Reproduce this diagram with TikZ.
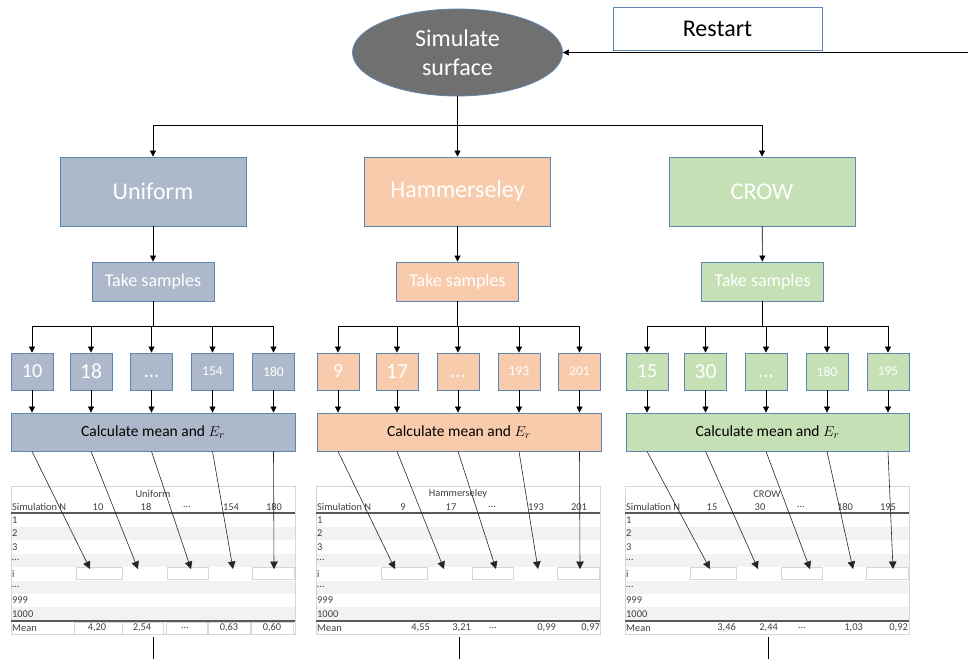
\documentclass[tikz,border=0pt]{standalone}
\usepackage{fontspec}
\setmainfont{Carlito}
\usetikzlibrary{arrows.meta,shapes.geometric}

\definecolor{unifill}{HTML}{ADB9CA}
\definecolor{hamfill}{HTML}{F8CBAD}
\definecolor{crowfill}{HTML}{C5E0B4}
\definecolor{boxedge}{HTML}{5F86B0}
\definecolor{ellfill}{HTML}{707070}
\definecolor{tabtext}{HTML}{404040}
\definecolor{tabrule}{HTML}{595959}
\definecolor{tabshade}{HTML}{F2F2F2}
\definecolor{tabedge}{HTML}{D6D6D6}

\tikzset{
  link/.style={draw=black, line width=0.6pt},
  flow/.style={link, -{Triangle[length=6pt,width=6pt]}},
  feed/.style={draw=black!85, line width=0.6pt, -{Triangle[length=7.5pt,width=7.5pt]}},
  boxbase/.style={draw=boxedge, line width=0.8pt, inner sep=0pt},
  method/.style={boxbase, minimum width=186pt, minimum height=69pt, text=white, font=\fontsize{24}{28}\selectfont},
  sampler/.style={boxbase, minimum width=122pt, minimum height=39pt, text=white, font=\fontsize{18}{20}\selectfont},
  nbox/.style={boxbase, minimum width=42pt, minimum height=37pt, text=white},
  big/.style={font=\fontsize{20}{22}\selectfont},
  bigger/.style={font=\fontsize{21.5}{23}\selectfont},
  small/.style={font=\fontsize{13.5}{15}\selectfont},
  calcbox/.style={boxbase, minimum width=284pt, minimum height=38pt, text=black, font=\fontsize{15.5}{18}\selectfont},
  tabtxt/.style={text=tabtext, font=\fontsize{10.4}{11}\selectfont, inner sep=0pt},
}

% dots set on the digits' baseline
\newcommand\lowdots{\vphantom{0}...}

% Result table: #1 left x, #2 name prefix, #3 title, #4-#8 sample sizes
\newcommand\simgrid[8]{%
  \begin{scope}[shift={(#1,0)}]
    \foreach \t in {526.9,553.7,580.5,607.3}
      \fill[tabshade] (0,\t) rectangle (284,\t+13.4);
    \draw[tabedge, line width=0.5pt] (0,486) rectangle (284,634);
    \draw[tabrule, line width=1.2pt] (0,513) -- (284,513);
    \draw[tabrule, line width=2pt] (0,621) -- (284,621);
    \foreach \a/\b in {65/111,156/197,241/283}
      \draw[tabedge, fill=white, line width=0.5pt] (\a,567.5) rectangle (\b,579.5);
    \node[tabtxt] (#2-title) at (142,494) {#3};
    \node[tabtxt, anchor=west] (#2-h0) at (1,507) {Simulation N};
    \node[tabtxt] (#2-h1) at (87,507) {#4};
    \node[tabtxt] (#2-h2) at (135,507) {#5};
    \node[tabtxt] (#2-h3) at (176,507) {#6};
    \node[tabtxt] (#2-h4) at (220,507) {#7};
    \node[tabtxt] (#2-h5) at (263,507) {#8};
    \node[tabtxt, anchor=west] (#2-r1) at (1,520.2) {1};
    \node[tabtxt, anchor=west] (#2-r2) at (1,533.6) {2};
    \node[tabtxt, anchor=west] (#2-r3) at (1,547) {3};
    \node[tabtxt, anchor=west] (#2-r4) at (1,560.4) {…};
    \node[tabtxt, anchor=west] (#2-r5) at (1,573.8) {i};
    \node[tabtxt, anchor=west] (#2-r6) at (1,587.2) {…};
    \node[tabtxt, anchor=west] (#2-r7) at (1,600.6) {999};
    \node[tabtxt, anchor=west] (#2-r8) at (1,614) {1000};
    \node[tabtxt, anchor=west] (#2-mean) at (1,628) {Mean};
  \end{scope}}

\begin{document}
\begin{tikzpicture}[x=1pt,y=-1pt]
\useasboundingbox (0,0) rectangle (971,659);

% start and restart
\node[ellipse, draw=boxedge, line width=0.8pt, fill=ellfill, minimum width=210pt,
      minimum height=87pt, inner sep=0pt, text=white, align=center,
      font=\fontsize{24}{29}\selectfont] (sim) at (457.5,52.5) {Simulate\\surface};
\node[boxbase, fill=white, minimum width=209pt, minimum height=43pt,
      font=\fontsize{24}{28}\selectfont] (restart) at (717.5,28.5) {Restart};
\coordinate (fb) at (968,52.5);
\draw[flow] (fb) -- (sim.east);

% sampling methods
\node[method, fill=unifill] (uni) at (153,191.5) {Uniform};
\node[method, fill=hamfill] (ham) at (457.5,191.5) {Hammerseley};
\node[method, fill=crowfill] (crow) at (762,191.5) {CROW};

\coordinate (split) at (457.5,125);
\draw[flow] (sim.south) -- (ham.north);
\draw[flow] (split) -| (uni.north);
\draw[flow] (split) -| (crow.north);

\node[sampler, fill=unifill] (us) at (153,281.5) {Take samples};
\node[sampler, fill=hamfill] (hs) at (457.5,281.5) {Take samples};
\node[sampler, fill=crowfill] (cs) at (762.5,281.5) {Take samples};
\draw[flow] (uni) -- (us);
\draw[flow] (ham) -- (hs);
\draw[flow] (crow) -- (cs);

% sample sizes, Uniform
\node[nbox, fill=unifill, big] (ub1) at (32,371.5) {10};
\node[nbox, fill=unifill, bigger] (ub2) at (91,371.5) {18};
\node[nbox, fill=unifill, big] (ub3) at (151.5,371.5) {\lowdots};
\node[nbox, fill=unifill, small] (ub4) at (212.5,371.5) {154};
\node[nbox, fill=unifill, small] (ub5) at (273.5,371.5) {180};
\node[calcbox, fill=unifill] (uc) at (153,432) {Calculate mean and $E_r$};

% sample sizes, Hammerseley
\node[nbox, fill=hamfill, big] (hb1) at (338,371.5) {9};
\node[nbox, fill=hamfill, bigger] (hb2) at (397,371.5) {17};
\node[nbox, fill=hamfill, big] (hb3) at (458,371.5) {\lowdots};
\node[nbox, fill=hamfill, small] (hb4) at (519,371.5) {193};
\node[nbox, fill=hamfill, small] (hb5) at (579.5,371.5) {201};
\node[calcbox, fill=hamfill] (hc) at (459,432) {Calculate mean and $E_r$};

% sample sizes, CROW
\node[nbox, fill=crowfill, big] (cb1) at (647,371.5) {15};
\node[nbox, fill=crowfill, bigger] (cb2) at (705.5,371.5) {30};
\node[nbox, fill=crowfill, big] (cb3) at (766,371.5) {\lowdots};
\node[nbox, fill=crowfill, small] (cb4) at (827,371.5) {180};
\node[nbox, fill=crowfill, small] (cb5) at (888,371.5) {195};
\node[calcbox, fill=crowfill, minimum width=283pt] (cc) at (767.5,432) {Calculate mean and $E_r$};

\coordinate (ubr) at (153,326);
\coordinate (hbr) at (457.5,326);
\coordinate (cbr) at (762.5,326);
\draw[link] (us) -- (ubr);
\draw[link] (hs) -- (hbr);
\draw[link] (cs) -- (cbr);
\foreach \g/\k in {u/uc,h/hc,c/cc}
  \foreach \i in {1,...,5} {
    \draw[flow] (\g br) -| (\g b\i.north);
    \draw[flow] (\g b\i.south) -- (\g b\i.south |- \k.north);
  }

% result tables
\simgrid{11}{ut}{Uniform}{10}{18}{…}{154}{180}
\simgrid{316}{ht}{Hammerseley}{9}{17}{…}{193}{201}
\simgrid{625}{ct}{CROW}{15}{30}{…}{180}{195}

\begin{scope}[shift={(11,0)}]
  \foreach \a/\b in {63/111,111/152,155/196,197/239,240/282}
    \draw[tabedge, fill=white, line width=0.5pt] (\a,621.8) rectangle (\b,634);
  \node[tabtxt] (ut-m1) at (86,628) {4,20};
  \node[tabtxt] (ut-m2) at (131,628) {2,54};
  \node[tabtxt] (ut-m3) at (174,628) {…};
  \node[tabtxt] (ut-m4) at (218,628) {0,63};
  \node[tabtxt] (ut-m5) at (261,628) {0,60};
\end{scope}
\begin{scope}[shift={(316,0)}]
  \node[tabtxt, anchor=east] (ht-m1) at (114,628) {4,55};
  \node[tabtxt, anchor=east] (ht-m2) at (155,628) {3,21};
  \node[tabtxt] (ht-m3) at (177,628) {…};
  \node[tabtxt, anchor=east] (ht-m4) at (240,628) {0,99};
  \node[tabtxt, anchor=east] (ht-m5) at (284,628) {0,97};
\end{scope}
\begin{scope}[shift={(625,0)}]
  \node[tabtxt, anchor=east] (ct-m1) at (111,628) {3,46};
  \node[tabtxt, anchor=east] (ct-m2) at (153,628) {2,44};
  \node[tabtxt] (ct-m3) at (177,628) {…};
  \node[tabtxt, anchor=east] (ct-m4) at (238,628) {1,03};
  \node[tabtxt, anchor=east] (ct-m5) at (283,628) {0,92};
\end{scope}

% means written into row i
\foreach \i/\x in {1/90,2/138,3/191,4/233,5/274}
  \coordinate (ui\i) at (\x,569);
\foreach \i/\x in {1/395,2/444,3/496,4/538,5/580}
  \coordinate (hi\i) at (\x,569);
\foreach \i/\x in {1/710,2/758,3/810,4/853,5/893}
  \coordinate (ci\i) at (\x,569);
\foreach \g/\k in {u/uc,h/hc,c/cc}
  \foreach \i in {1,...,5}
    \draw[feed] (\g b\i.south |- \k.south) -- (\g i\i);

% onward from each table
\coordinate (uo1) at (153,637);   \coordinate (uo2) at (153,659);
\coordinate (ho1) at (459,637);   \coordinate (ho2) at (459,659);
\coordinate (co1) at (768,637);   \coordinate (co2) at (768,659);
\draw[link] (uo1) -- (uo2);
\draw[link] (ho1) -- (ho2);
\draw[link] (co1) -- (co2);
\end{tikzpicture}
\end{document}
